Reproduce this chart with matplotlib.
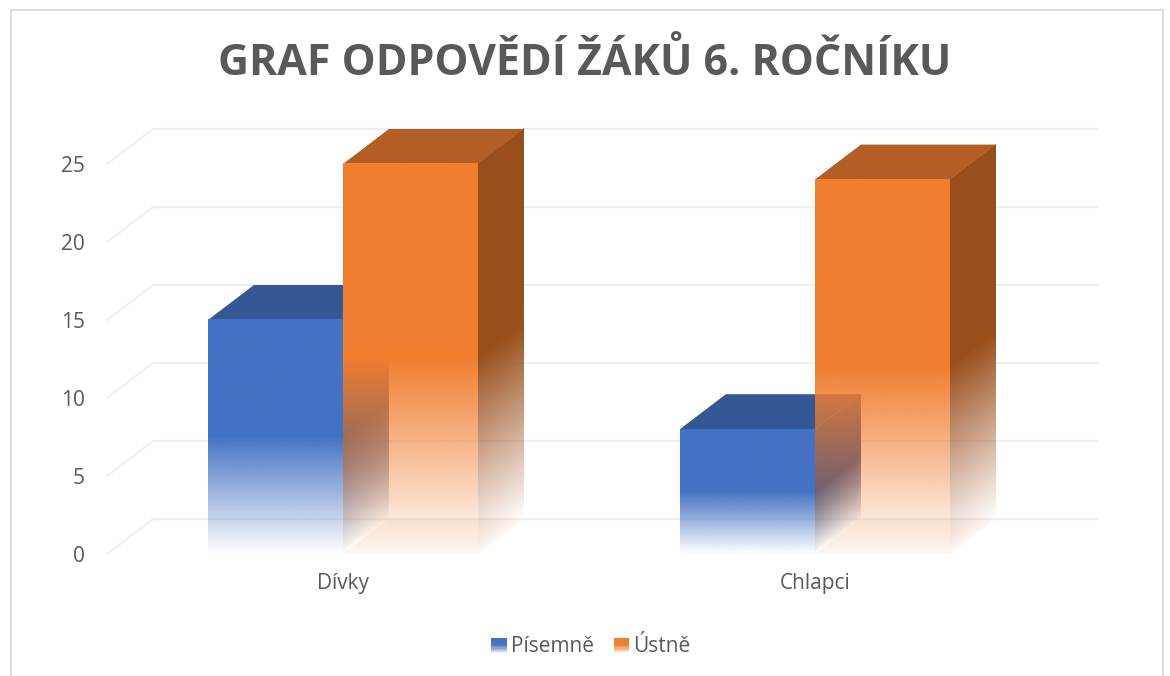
import numpy as np
import matplotlib
matplotlib.use("Agg")
import matplotlib.pyplot as plt
from matplotlib.legend_handler import HandlerBase
from matplotlib.patches import Rectangle
from matplotlib.transforms import Affine2D
from matplotlib.colors import to_rgb

categories = ["Dívky", "Chlapci"]
series_names = ["Písemně", "Ústně"]
pisemne = [15, 8]
ustne = [25, 24]
y_ticks = [0, 5, 10, 15, 20, 25]
title = "GRAF ODPOVĚDÍ ŽÁKŮ 6. ROČNÍKU"

TXT = "#595959"
GRID = "#F0F0F0"
BLUE = dict(front="#4472C4", side="#2E5290", top="#335895", floor=None)
ORANGE = dict(front="#F07E2F", side="#994F1C", top="#B35E24", floor="#FBE3D2")

W, H = 1170, 676
BAR_W = 135 / 472
DX = 46 / 472
DY = 35 / 15.6

fig = plt.figure(figsize=(W / 100, H / 100), dpi=100, facecolor="white")
ax = fig.add_axes([107 / W, 1 - 554 / H, (1098 - 107) / W, (554 - 129) / H])
ax.set_facecolor("none")

# outer frame
fig.add_artist(Rectangle((11 / W, -0.01), (1163 - 11) / W, 1 - 10 / H + 0.01,
                         transform=fig.transFigure, fill=False, ec="#DCDCDC", lw=1.4))


def gradient(colour):
    v = np.linspace(0, 1, 400)
    alpha = np.clip(v / 0.5, 0, 1)
    rgba = np.ones((400, 1, 4))
    rgba[..., :3] = to_rgb(colour)
    rgba[..., 3] = alpha[:, None]
    return rgba


def face(colour, x0, y0, ux, uy, vy, z):
    """Fading face: u axis runs along (ux, uy), v axis runs up by vy."""
    tr = Affine2D.from_values(ux, uy, 0, vy, x0, y0) + ax.transData
    im = ax.imshow(gradient(colour), origin="lower", extent=(0, 1, 0, 1), aspect="auto",
                   interpolation="bilinear", zorder=z)
    im.set_transform(tr)
    im.set_clip_on(False)


def bar3d(x0, h, c, z):
    x1 = x0 + BAR_W
    if c["floor"]:
        ax.fill([x0, x1, x1 + DX, x0 + DX], [0, 0, DY, DY], color=c["floor"], alpha=0.3,
                lw=0, zorder=z, clip_on=False)
    face(c["side"], x1, 0, DX, DY, h, z + 0.1)
    ax.fill([x0, x1, x1 + DX, x0 + DX], [h, h, h + DY, h + DY], color=c["top"], lw=0,
            zorder=z + 0.2, clip_on=False)
    face(c["front"], x0, 0, BAR_W, 0, h, z + 0.3)


# gridlines: back wall and side wall
for t in y_ticks:
    ax.plot([-0.5, -0.5 + DX, 1.6], [t, t + DY, t + DY], color=GRID, lw=1.6, zorder=1,
            clip_on=False, solid_joinstyle="round")

for i in range(len(categories)):
    bar3d(i - BAR_W, pisemne[i], BLUE, 2 + 2 * i)
    bar3d(i, ustne[i], ORANGE, 3 + 2 * i)

ax.set_xlim(-0.5, 1.6)
ax.set_ylim(0, (554 - 129) / 15.6)
for s in ax.spines.values():
    s.set_visible(False)
ax.set_yticks(y_ticks)
ax.set_xticks(range(len(categories)))
ax.set_xticklabels(categories)
ax.tick_params(axis="y", length=0, pad=16, labelsize=15, labelcolor=TXT)
ax.tick_params(axis="x", length=0, pad=13.5, labelsize=15, labelcolor=TXT)
for lab in ax.get_xticklabels() + ax.get_yticklabels():
    lab.set_family("Open Sans")

fig.text(585 / W, 1 - 75 / H, title, ha="center", va="baseline", family="Open Sans",
         fontweight="bold", fontsize=30.9, color=TXT)


class GradientKey(HandlerBase):
    def __init__(self, colour):
        super().__init__()
        self.colour = colour

    def create_artists(self, legend, orig, xd, yd, w, h, fontsize, trans):
        n = 14
        out = []
        side = h * 1.05
        for k in range(n):
            a = min(1, ((k + 0.5) / n) / 0.5)
            out.append(Rectangle((-xd, -yd + side * k / n - 1), side, side / n, fc=self.colour,
                                 alpha=a, lw=0, transform=trans))
        return out


h1 = Rectangle((0, 0), 1, 1, label=series_names[0])
h2 = Rectangle((0, 0), 1, 1, label=series_names[1])
fig.legend(handles=[h1, h2], loc="center", bbox_to_anchor=(591 / W, 1 - 646 / H), ncol=2,
           frameon=False, handler_map={h1: GradientKey(BLUE["front"]), h2: GradientKey(ORANGE["front"])},
           prop={"family": "Open Sans", "size": 15}, labelcolor=TXT, handlelength=0.75,
           handletextpad=0.2, columnspacing=0.93)

fig.savefig("out.png", dpi=100, facecolor="white")
